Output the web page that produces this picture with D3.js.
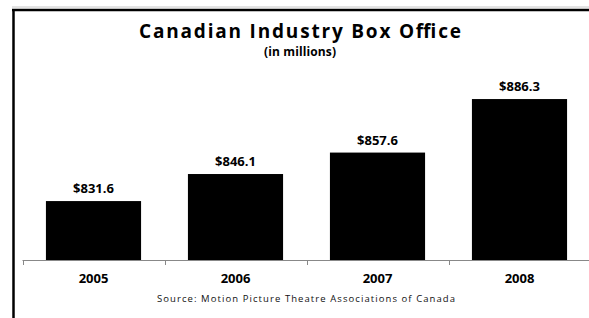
<!DOCTYPE html>
<html>
<head>
<meta charset="utf-8">
<script src="https://cdn.jsdelivr.net/npm/d3@7"></script>
<style>
  body { margin: 0; background: #fff; }
  svg { display: block; font-family: "Open Sans", "DejaVu Sans", sans-serif; }
</style>
</head>
<body>
<div id="chart"></div>
<script>
// data
let years = ["2005", "2006", "2007", "2008"];
let boxOffice = [831.6, 846.1, 857.6, 886.3];
let valueLabels = ["$831.6", "$846.1", "$857.6", "$886.3"];

const W = 589, H = 318;
const svg = d3.select("#chart").append("svg").attr("width", W).attr("height", H);

// frame (top + left edge, the rest runs off the picture)
svg.append("line").attr("x1", 12).attr("x2", W).attr("y1", 7).attr("y2", 7)
  .attr("stroke", "#c8c8c8").attr("stroke-width", 1);
svg.append("line").attr("x1", 12).attr("x2", W).attr("y1", 10).attr("y2", 10)
  .attr("stroke", "#000").attr("stroke-width", 2.5);
svg.append("line").attr("x1", 13.5).attr("x2", 13.5).attr("y1", 9).attr("y2", H)
  .attr("stroke", "#000").attr("stroke-width", 2.5);

let x = d3.scaleBand().domain(years).range([22.5, 590.5]).paddingInner(0.33).paddingOuter(0.165);
let y = d3.scaleLinear().domain([800, 900]).range([260, 73.5]);

// bars
svg.selectAll("rect.bar").data(years).enter().append("rect")
  .attr("class", "bar")
  .attr("x", d => x(d))
  .attr("width", x.bandwidth())
  .attr("y", (d, i) => y(boxOffice[i]))
  .attr("height", (d, i) => y(800) - y(boxOffice[i]))
  .attr("fill", "#000");

// value labels
svg.selectAll("text.val").data(years).enter().append("text")
  .attr("class", "val")
  .attr("x", d => x(d) + x.bandwidth() / 2)
  .attr("y", (d, i) => y(boxOffice[i]) - 8)
  .attr("text-anchor", "middle")
  .attr("font-size", 13).attr("font-weight", "bold")
  .text((d, i) => valueLabels[i]);

// x axis
let xAxis = d3.axisBottom(x).tickSize(0).tickFormat(d => d);
let gx = svg.append("g").attr("transform", "translate(0,260)").call(xAxis);
gx.select(".domain").remove();
svg.append("line").attr("x1", 22.5).attr("x2", W).attr("y1", 260.5).attr("y2", 260.5)
  .attr("stroke", "#888").attr("stroke-width", 1);
let step = x.step();
d3.range(5).forEach(k => {
  let tx = Math.round(22.5 + k * step) + 0.5;
  svg.append("line").attr("x1", tx).attr("x2", tx).attr("y1", 260).attr("y2", 265)
    .attr("stroke", "#888").attr("stroke-width", 1);
});
gx.selectAll(".tick text")
  .attr("y", 23).attr("dy", 0)
  .attr("font-size", 13).attr("font-weight", "bold")
  .attr("font-family", "\"Open Sans\", sans-serif")
  .attr("fill", "#000");

// titles
svg.append("text").attr("x", 300).attr("y", 38).attr("text-anchor", "middle")
  .attr("font-size", 19).attr("font-weight", "bold")
  .attr("textLength", 322).attr("lengthAdjust", "spacing")
  .text("Canadian Industry Box Office");
svg.append("text").attr("x", 300).attr("y", 56).attr("text-anchor", "middle")
  .attr("font-size", 12).attr("font-weight", "bold")
  .attr("textLength", 72).attr("lengthAdjust", "spacing")
  .text("(in millions)");

// source note
svg.append("text").attr("x", 306).attr("y", 302).attr("text-anchor", "middle")
  .attr("font-size", 9.5).attr("fill", "#111")
  .attr("textLength", 298).attr("lengthAdjust", "spacing")
  .text("Source: Motion Picture Theatre Associations of Canada");
</script>
</body>
</html>
